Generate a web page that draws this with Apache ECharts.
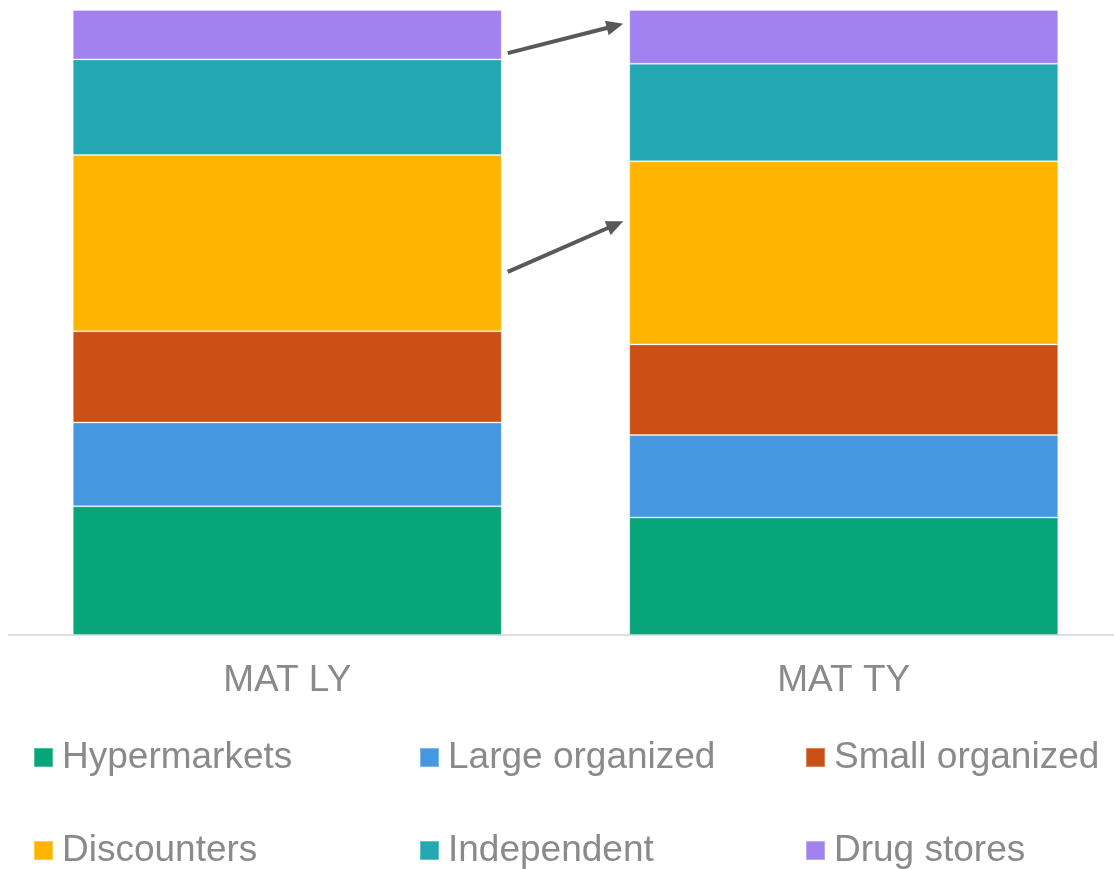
<!DOCTYPE html>
<html>
<head>
<meta charset="utf-8">
<title>Channel share MAT LY vs MAT TY</title>
<script src="https://cdn.jsdelivr.net/npm/echarts@6/dist/echarts.min.js"></script>
<style>
  html, body { margin: 0; padding: 0; background: #ffffff; }
  #chart { width: 1114px; height: 869px; }
</style>
</head>
<body>
<div id="chart"></div>
<script>
// Periods on the x axis
const periods = ['MAT LY', 'MAT TY'];

// Channel shares (% of total), stacked bottom to top
const hypermarkets   = [20.6, 18.8];
const largeOrganized = [13.4, 13.2];
const smallOrganized = [14.6, 14.5];
const discounters    = [28.2, 29.3];
const independent    = [15.3, 15.6];
const drugStores     = [7.9, 8.6];

const channelNames = ['Hypermarkets', 'Large organized', 'Small organized',
                      'Discounters', 'Independent', 'Drug stores'];
const channelValues = [hypermarkets, largeOrganized, smallOrganized,
                       discounters, independent, drugStores];
const channelColors = ['#06A57A', '#4597E0', '#CA5015', '#FFB500', '#23A8B1', '#A183F0'];

// Trend arrows between the bars, as share levels (%) at start and end
const arrowLevels = [
  { from: 93.1, to: 97.8 },
  { from: 58.1, to: 66.2 }
];

const FONT = '"Liberation Sans", Arial, sans-serif';
const TEXT_GREY = '#8a8a8a';
const BAR_WIDTH = 429;

const chart = echarts.init(document.getElementById('chart'), null, { renderer: 'canvas' });

const series = channelNames.map((name, i) => ({
  name: name,
  type: 'bar',
  stack: 'share',
  barWidth: BAR_WIDTH,
  data: channelValues[i],
  itemStyle: {
    color: channelColors[i],
    borderColor: 'rgba(255,255,255,0.3)',
    borderWidth: 1
  },
  emphasis: { disabled: true },
  animation: false
}));

// Legend laid out as three columns of two items
const legendColumns = [
  { left: 33,  data: ['Hypermarkets', 'Discounters'] },
  { left: 419, data: ['Large organized', 'Independent'] },
  { left: 805, data: ['Small organized', 'Drug stores'] }
];

const legends = legendColumns.map(col => ({
  orient: 'vertical',
  left: col.left,
  top: 739,
  data: col.data,
  icon: 'rect',
  itemWidth: 19,
  itemHeight: 19,
  itemGap: 56,
  selectedMode: false,
  padding: 0,
  textStyle: {
    fontFamily: FONT,
    fontSize: 37,
    color: TEXT_GREY,
    padding: [0, 0, 0, 4]
  }
}));

chart.setOption({
  animation: false,
  backgroundColor: '#ffffff',
  color: channelColors,
  grid: {
    left: 9, top: 10, width: 1113, height: 625,
    containLabel: false,
    outerBoundsMode: 'none'
  },
  xAxis: {
    type: 'category',
    data: periods,
    axisLine: { show: true, lineStyle: { color: '#dedede', width: 2 } },
    axisTick: { show: false },
    axisLabel: {
      margin: 27,
      fontFamily: FONT,
      fontSize: 37,
      color: TEXT_GREY
    },
    splitLine: { show: false }
  },
  yAxis: {
    type: 'value',
    min: 0,
    max: 100,
    show: false,
    splitLine: { show: false }
  },
  legend: legends,
  series: series
});

// Arrow annotations between the two bars
function buildArrows() {
  const leftCenter = chart.convertToPixel({ xAxisIndex: 0 }, periods[0]);
  const rightCenter = chart.convertToPixel({ xAxisIndex: 0 }, periods[1]);
  const x0 = leftCenter + BAR_WIDTH / 2 + 6;
  const x1 = rightCenter - BAR_WIDTH / 2 - 6;
  const headLen = 17, headHalf = 7.5, color = '#595959';
  const elements = [];
  arrowLevels.forEach(a => {
    const y0 = chart.convertToPixel({ yAxisIndex: 0 }, a.from);
    const y1 = chart.convertToPixel({ yAxisIndex: 0 }, a.to);
    const dx = x1 - x0, dy = y1 - y0;
    const len = Math.sqrt(dx * dx + dy * dy);
    const ux = dx / len, uy = dy / len;
    const px = -uy, py = ux;
    const bx = x1 - ux * headLen, by = y1 - uy * headLen;
    elements.push({
      type: 'line',
      silent: true,
      shape: { x1: x0, y1: y0, x2: bx + ux * 2, y2: by + uy * 2 },
      style: { stroke: color, lineWidth: 4, lineCap: 'butt' }
    });
    elements.push({
      type: 'polygon',
      silent: true,
      shape: { points: [[x1, y1], [bx + px * headHalf, by + py * headHalf], [bx - px * headHalf, by - py * headHalf]] },
      style: { fill: color }
    });
  });
  chart.setOption({ graphic: elements });
}
buildArrows();
</script>
</body>
</html>
